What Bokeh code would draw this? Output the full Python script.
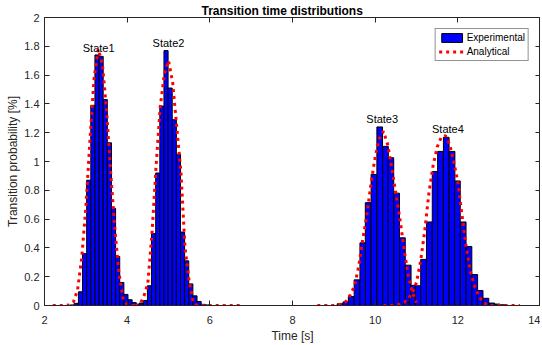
from bokeh.plotting import figure
from bokeh.models import Range1d, FixedTicker, LinearAxis, Legend, LegendItem
from bokeh.core.properties import value
from bokeh.embed import file_html
from bokeh.resources import INLINE

title_text = "Transition time distributions"
x_label = "Time [s]"
y_label = "Transition probability [%]"
x_ticks = [2, 4, 6, 8, 10, 12, 14]
y_ticks = [0, 0.2, 0.4, 0.6, 0.8, 1, 1.2, 1.4, 1.6, 1.8, 2]
y_tick_labels = ["0", "0.2", "0.4", "0.6", "0.8", "1", "1.2", "1.4", "1.6", "1.8", "2"]

state_names = ["State1", "State2", "State3", "State4"]
state_label_x = [3.31, 5.0, 10.17, 11.76]
state_label_y = [1.785, 1.824, 1.293, 1.223]

# Experimental histograms (bin centres, bin width, heights in %)
s1_width = 0.1
s1_centers = [2.67, 2.77, 2.87, 2.97, 3.07, 3.17, 3.27, 3.37, 3.47, 3.57, 3.67, 3.77, 3.87, 3.97, 4.07, 4.17, 4.27]
s1_heights = [0.004, 0.015, 0.095, 0.36, 0.87, 1.39, 1.74, 1.73, 1.43, 1.13, 0.675, 0.34, 0.16, 0.077, 0.04, 0.02, 0.008]

s2_width = 0.1
s2_centers = [4.34, 4.44, 4.54, 4.64, 4.74, 4.84, 4.94, 5.04, 5.14, 5.24, 5.34, 5.44, 5.54, 5.64, 5.74, 5.84, 5.94]
s2_heights = [0.017, 0.035, 0.137, 0.50, 0.92, 1.385, 1.77, 1.51, 1.29, 1.05, 0.51, 0.31, 0.15, 0.067, 0.028, 0.008, 0.004]

s3_width = 0.137
s3_centers = [9.15, 9.29, 9.42, 9.56, 9.70, 9.83, 9.97, 10.11, 10.25, 10.38, 10.52, 10.66, 10.80, 10.93, 11.07]
s3_heights = [0.012, 0.025, 0.062, 0.178, 0.435, 0.714, 0.91, 1.24, 1.105, 1.026, 0.78, 0.47, 0.28, 0.14, 0.015]

s4_width = 0.137
s4_centers = [10.76, 10.90, 11.04, 11.17, 11.31, 11.45, 11.58, 11.72, 11.86, 11.99, 12.13, 12.27, 12.41, 12.54, 12.68, 12.82, 12.95, 13.09]
s4_heights = [0.02, 0.06, 0.137, 0.32, 0.58, 0.93, 1.07, 1.168, 1.07, 0.865, 0.58, 0.41, 0.215, 0.104, 0.05, 0.017, 0.01, 0.005]

# Analytical curves
s1_curve_x = [2.2, 2.3, 2.4, 2.5, 2.6, 2.7, 2.8, 2.9, 3.0, 3.1, 3.2, 3.3, 3.4, 3.5, 3.6, 3.7, 3.8, 3.9, 4.0, 4.1, 4.2]
s1_curve_y = [0, 0, 0, 0, 0.003, 0.025, 0.11, 0.33, 0.68, 1.15, 1.58, 1.78, 1.68, 1.36, 0.93, 0.54, 0.23, 0.05, 0.005, 0, 0]

s2_curve_x = [4.2, 4.3, 4.4, 4.5, 4.6, 4.7, 4.8, 4.9, 5.0, 5.1, 5.2, 5.3, 5.4, 5.5, 5.6, 5.7, 5.8, 5.9, 6.0,
              6.1, 6.2, 6.3, 6.4, 6.5, 6.6, 6.7, 6.8]
s2_curve_y = [0, 0.005, 0.06, 0.155, 0.5, 0.97, 1.38, 1.61, 1.70, 1.55, 1.24, 0.93, 0.40, 0.17, 0.02, 0, 0, 0, 0,
              0, 0, 0, 0, 0, 0, 0, 0]

s3_curve_x = [8.6, 8.7, 8.8, 8.9, 9.0, 9.1, 9.2, 9.3, 9.4, 9.5, 9.6, 9.7, 9.8, 9.9, 10.0, 10.1, 10.2, 10.3,
              10.4, 10.5, 10.6, 10.7, 10.8, 10.9, 11.0]
s3_curve_y = [0, 0, 0, 0, 0.002, 0.005, 0.01, 0.03, 0.075, 0.135, 0.27, 0.46, 0.63, 0.85, 1.03, 1.16, 1.21, 1.12,
              0.96, 0.78, 0.60, 0.39, 0.21, 0.09, 0.02]

s4_curve_x = [10.2, 10.3, 10.4, 10.5, 10.6, 10.7, 10.8, 10.9, 11.0, 11.1, 11.2, 11.3, 11.4, 11.5, 11.6, 11.7,
              11.8, 11.9, 12.0, 12.1, 12.2, 12.3, 12.4, 12.5, 12.6, 12.7, 12.8, 12.9, 13.0, 13.1, 13.2, 13.3,
              13.4, 13.5]
s4_curve_y = [0, 0, 0, 0.003, 0.01, 0.02, 0.045, 0.09, 0.16, 0.31, 0.52, 0.78, 0.97, 1.10, 1.17, 1.18,
              1.12, 1.0, 0.86, 0.63, 0.41, 0.24, 0.14, 0.07, 0.025, 0.005, 0, 0, 0, 0, 0, 0,
              0, 0]

FONT = "Liberation Sans"
AX = "#262626"

p = figure(width=540, height=345, x_range=Range1d(2, 14), y_range=Range1d(0, 2),
           output_backend="svg", toolbar_location=None, title=title_text,
           min_border_left=44, min_border_right=0, min_border_top=17, min_border_bottom=39)
p.background_fill_color = "white"
p.border_fill_color = "white"
p.outline_line_color = AX
p.outline_line_width = 1
p.grid.visible = False

p.title.align = "left"
p.title.offset = 157
p.title.standoff = 0
p.title.text_font = FONT
p.title.text_font_size = "12px"
p.title.text_font_style = "bold"
p.title.text_color = "#000000"

p.xaxis.ticker = FixedTicker(ticks=x_ticks)
p.yaxis.ticker = FixedTicker(ticks=y_ticks)
p.yaxis.major_label_overrides = dict(zip(y_ticks, y_tick_labels))
p.xaxis.axis_label = x_label
p.yaxis.axis_label = y_label
for ax in [p.xaxis[0], p.yaxis[0]]:
    ax.major_tick_in = 5
    ax.major_tick_out = 0
    ax.minor_tick_line_color = None
    ax.axis_line_color = AX
    ax.major_tick_line_color = AX
    ax.major_label_text_font = FONT
    ax.major_label_text_font_size = "11px"
    ax.major_label_text_color = AX
    ax.axis_label_text_font = FONT
    ax.axis_label_text_font_size = "12px"
    ax.axis_label_text_font_style = "normal"
    ax.axis_label_text_color = AX
p.xaxis.major_label_standoff = 10
p.xaxis.axis_label_standoff = 2
p.yaxis.major_label_standoff = 5
p.yaxis.axis_label_standoff = 1

for place, ticks in (("above", x_ticks), ("right", y_ticks)):
    ax = LinearAxis(ticker=FixedTicker(ticks=ticks), major_label_text_font_size="1px",
                    major_label_text_color=None,
                    major_label_standoff=0, major_tick_in=5, major_tick_out=0,
                    minor_tick_line_color=None, axis_line_color=AX, major_tick_line_color=AX)
    p.add_layout(ax, place)

bar_kw = dict(bottom=0, fill_color="#0000ff", line_color="#000000", line_width=1)
r1 = p.vbar(x=s1_centers, width=s1_width, top=s1_heights, **bar_kw)
r2 = p.vbar(x=s2_centers, width=s2_width, top=s2_heights, **bar_kw)
r3 = p.vbar(x=s3_centers, width=s3_width, top=s3_heights, **bar_kw)
r4 = p.vbar(x=s4_centers, width=s4_width, top=s4_heights, **bar_kw)

line_kw = dict(line_color="#ff0000", line_width=3, line_dash="3 4")
l1 = p.line(s1_curve_x, s1_curve_y, **line_kw)
l2 = p.line(s2_curve_x, s2_curve_y, **line_kw)
l3 = p.line(s3_curve_x, s3_curve_y, **line_kw)
l4 = p.line(s4_curve_x, s4_curve_y, **line_kw)

p.text(x=state_label_x, y=state_label_y, text=state_names, text_align="center",
       text_baseline="alphabetic", text_font=value(FONT), text_font_size="11px", text_color="#000000")

legend = Legend(items=[LegendItem(label="Experimental", renderers=[r1]),
                       LegendItem(label="Analytical", renderers=[l1])],
                location="top_right", margin=11, padding=3, spacing=3,
                glyph_width=26, glyph_height=11, label_height=11, label_standoff=2,
                label_text_font=FONT, label_text_font_size="10px", label_text_color="#000000",
                border_line_color=AX, border_line_width=1,
                background_fill_color="white", background_fill_alpha=1)
p.add_layout(legend)

open("out.html", "w").write(file_html(p, INLINE))
